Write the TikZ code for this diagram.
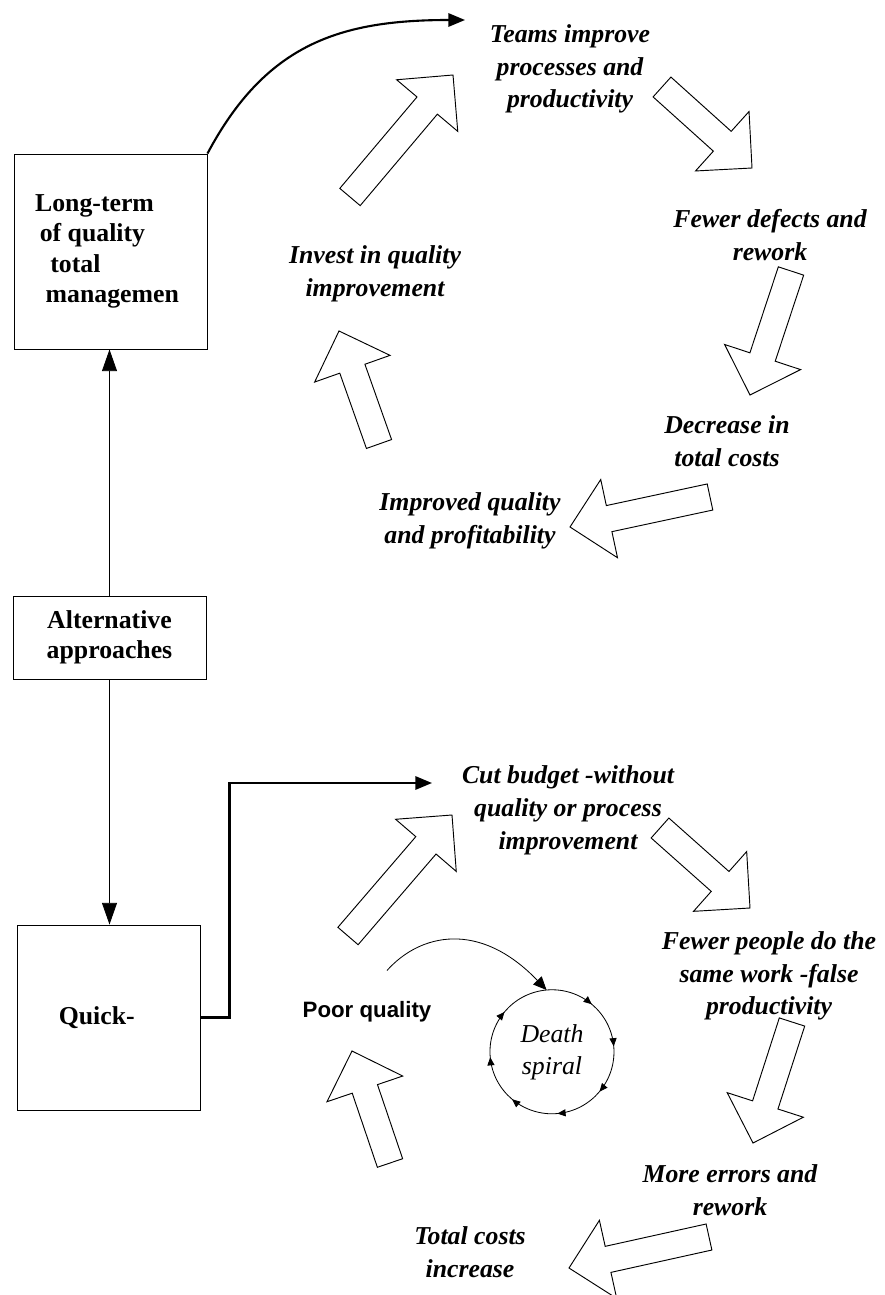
\documentclass[tikz,border=0pt]{standalone}
\usepackage{fontspec}
\setmainfont{Liberation Serif}
\newfontfamily\labelsans{Liberation Sans}
\usetikzlibrary{positioning,calc,arrows.meta,decorations.markings}

% hollow block arrow: tail centre, tip
\newcommand{\blockarrow}[2]{%
  \coordinate (bt) at (#1);
  \coordinate (bp) at (#2);
  \coordinate (bb) at ($(bp)!1.2cm!(bt)$);
  \draw[hollow] ($(bt)!0.4cm!90:(bp)$) -- ($(bb)!0.4cm!-90:(bt)$) -- ($(bb)!1.2cm!-90:(bt)$) -- (bp)
    -- ($(bb)!1.2cm!90:(bt)$) -- ($(bb)!0.4cm!90:(bt)$) -- ($(bt)!0.4cm!-90:(bp)$) -- cycle;}

\begin{document}
\begin{tikzpicture}[x=0.03cm,y=0.03cm,
    box/.style={draw,line width=0.8pt,inner sep=0pt,font=\fontsize{22}{26}\selectfont\bfseries},
    steplabel/.style={align=center,font=\fontsize{22}{28}\selectfont\bfseries\itshape},
    hollow/.style={draw,fill=white,line width=0.8pt,line join=miter},
    thinlink/.style={line width=0.7pt,-{Triangle[length=0.65cm,width=0.45cm]}},
    boldlink/.style={line width=1.8pt,-{Triangle[length=0.5cm,width=0.4cm]}}]

	\useasboundingbox (0,0) rectangle (884,-1295);

	% approach boxes
	\node[box,minimum width=5.79cm,minimum height=5.85cm,align=left] (longterm) at (110.5,-251.5)
		{Long-term\\\hspace*{4pt}of quality\\\hspace*{13pt}total\\\hspace*{9pt}managemen\hspace*{6pt}};
	\node[box,minimum width=5.79cm,minimum height=2.49cm,align=center] (alt) at (109.5,-637.5) {Alternative\\approaches};
	\node[box,minimum width=5.49cm,minimum height=5.55cm] (quick) at (108.5,-1017.5) {Quick-\hspace*{20pt}};

	% upper cycle
	\node[steplabel] (teams) at (570,-69) {Teams improve\\processes and\\productivity};
	\node[steplabel] (defects) at (770,-235) {Fewer defects and\\rework};
	\node[steplabel] (decrease) at (727,-441) {Decrease in\\total costs};
	\node[steplabel] (improved) at (470,-521) {Improved quality\\and profitability};
	\node[steplabel] (invest) at (375,-274) {Invest in quality\\improvement};

	% lower cycle
	\node[steplabel] (cut) at (568,-810) {Cut budget -without\\quality or process\\improvement};
	\node[steplabel] (people) at (769,-976) {Fewer people do the\\same work -false\\productivity};
	\node[steplabel] (errors) at (730,-1190) {More errors and\\rework};
	\node[steplabel] (totalcost) at (470,-1252) {Total costs\\increase};
	\node[font=\labelsans\fontsize{19}{23}\selectfont\bfseries] (poor) at (367,-1012) {Poor quality};
	\node[circle,minimum size=3.72cm,inner sep=0pt,align=center,font=\fontsize{22}{27}\selectfont\itshape] (spiral) at (552,-1052) {Death\\spiral};

	\foreach \tx/\ty/\px/\py in {350/197/453/75, 662/87/752/168, 791/271/750/395, 710/497/570/527, 379/444/339/331,
		348/936/452/815, 660/828/750/908, 792/1022/753/1143, 709/1237/569/1268, 390/1163/352/1051} {
		\blockarrow{\tx,-\ty}{\px,-\py}
	}

	\draw[line width=0.7pt,decoration={markings,mark=between positions 0.125 and 0.875 step 0.125 with {\arrow{Triangle[length=7pt,width=6pt]}}},
		postaction={decorate}] (spiral.95) arc[start angle=95,end angle=-265,radius=1.86cm];

	% connectors
	\draw[thinlink] (alt.north) -- (alt.north |- longterm.south);
	\draw[thinlink] (alt.south) -- (alt.south |- quick.north);
	\coordinate (teamsin) at (465,-20);
	\draw[boldlink] (longterm.north east) to[out=62,in=180,looseness=1.1] (teamsin);
	\coordinate (cutin) at (432,-783);
	\draw[boldlink] (quick.east) -- ++(29,0) |- (cutin);
	\coordinate (poortop) at ($(poor.north)+(20,27)$);
	\draw[line width=0.7pt,-{Triangle[length=0.4cm,width=0.35cm]}] (poortop) .. controls +(33,37) and +(-67,70) .. (spiral.95);
\end{tikzpicture}
\end{document}
